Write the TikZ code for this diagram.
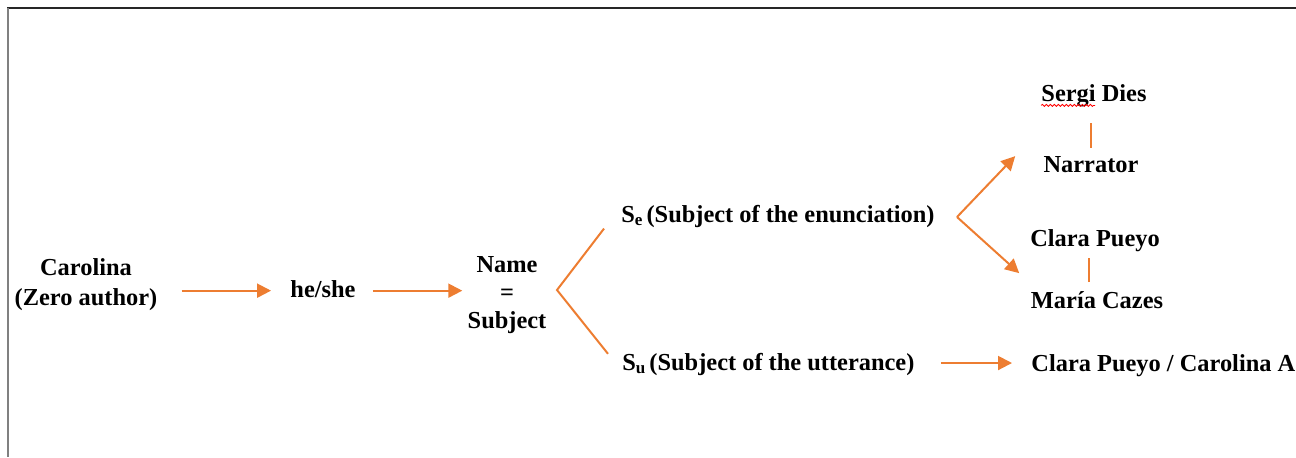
\documentclass[tikz,border=0pt]{standalone}
\usepackage{fontspec}
\setmainfont{Liberation Serif}
\usetikzlibrary{arrows.meta,calc,decorations.pathmorphing}
\definecolor{accent}{HTML}{ED7D31}
\begin{document}
\begin{tikzpicture}[x=0.5pt,y=-0.5pt,
  txt/.style={inner sep=0pt,font=\bfseries\fontsize{12.2}{14}\selectfont},
  link/.style={draw=accent,line width=1pt},
  flow/.style={link,-{Triangle[length=7pt,width=7pt]}}]
\useasboundingbox (0,0) rectangle (1296,457);
\clip (0,0) rectangle (1296,457);
\draw[line width=0.6pt,black!85] (7,8) -- (1296,8);
\draw[line width=0.8pt,black!50] (8,8) -- (8,457);
% left part
\node[txt,align=center,anchor=north] (zero) at (86,258) {Carolina\\[1pt](Zero author)};
\node[txt,anchor=base] (heshe) at (323,297) {he/she};
\node[txt,align=center,anchor=north] (name) at (507,256) {Name\\=\\Subject};
% the two subjects
\node[txt,anchor=base west] (se) at (621,222) {S\textsubscript{e}\kern1.5pt(Subject of the enunciation)};
\node[txt,anchor=base west] (su) at (622,370) {S\textsubscript{u}\kern1.5pt(Subject of the utterance)};
% right part
\node[txt,anchor=base] (sergi) at (1094,101) {Sergi Dies};
\node[txt,anchor=base] (narrator) at (1091,172) {Narrator};
\node[txt,anchor=base] (clara) at (1095,246) {Clara Pueyo};
\node[txt,anchor=base] (maria) at (1097,308) {María Cazes};
\node[txt,anchor=base west] (both) at (1031,371) {Clara Pueyo / Carolina A};
\draw[red,line width=0.4pt,decorate,decoration={snake,amplitude=0.5pt,segment length=2pt}]
  ([yshift=-2.2pt]sergi.base west) -- ++(27pt,0);
% connectors
\draw[flow,shorten <=12pt,shorten >=9.5pt] ([yshift=-1pt]zero.east |- heshe.center) -- ([yshift=-1pt]heshe.west);
\draw[flow,shorten <=8.5pt,shorten >=2.5pt] ([yshift=-1pt]heshe.east) -- ([yshift=-1pt]name.west |- heshe.east);
\coordinate (fork) at (557,290);
\draw[link] ([shift={(-8.5pt,-0.5pt)}]se.south west) -- (fork) -- ([shift={(-7pt,-0.7pt)}]su.north west);
\coordinate (split) at ([shift={(11pt,-0.5pt)}]se.east);
\draw[flow] (split) -- ([shift={(-14pt,4pt)}]narrator.west);
\draw[flow] (split) -- ($(clara.south west)!0.5!(maria.north west)+(-5.5pt,-1pt)$);
\draw[link,shorten <=4pt,shorten >=8pt] (narrator.north) -- (narrator.north |- sergi.south);
\draw[link,shorten <=4.3pt,shorten >=3pt] ([xshift=-4pt]maria.north) -- ([xshift=-4pt]maria.north |- clara.south);
\draw[flow,shorten <=13pt,shorten >=9.5pt] ([yshift=0.5pt]su.east) -- ([yshift=0.5pt]both.west |- su.east);
\end{tikzpicture}
\end{document}
